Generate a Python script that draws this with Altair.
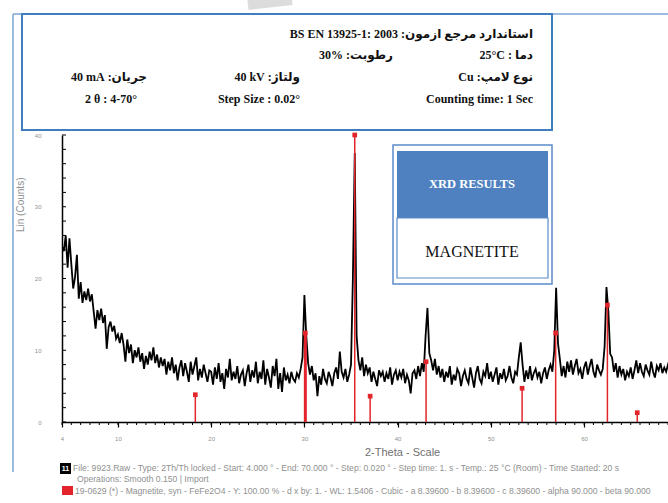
import altair as alt
import pandas as pd

# ---------------- data ----------------
SCAN_START = 4.0   # degrees 2-theta
SCAN_STEP = 0.2    # sampling step of the stored trace

counts = [
    # 4.0 - 9.8
    24.5, 23.8, 26.0, 21.5, 25.6, 22.0, 18.6, 20.2, 23.3, 17.2,
    19.5, 16.6, 18.2, 17.0, 18.6, 16.8, 17.8, 15.4, 13.0, 15.6,
    14.2, 15.8, 13.8, 14.9, 10.2, 13.2, 14.0, 12.6, 13.4, 11.6,
    # 10.0 - 14.8
    12.2, 11.0, 12.4, 10.8, 8.4, 11.5, 9.6, 10.8, 8.2, 10.0, 9.0, 10.4, 8.4,
    9.6, 7.4, 9.2, 8.0, 9.8, 8.6, 10.4, 8.2, 9.4, 7.6, 9.0, 7.8,
    # 15.0 - 19.8
    8.8, 6.6, 8.4, 7.2, 9.0, 6.8, 8.0, 5.8, 7.6, 8.6, 6.4, 8.2, 7.0,
    5.6, 8.4, 6.6, 7.8, 9.0, 5.8, 7.4, 6.2, 8.0, 6.8, 5.6, 7.2,
    # 20.0 - 24.8
    7.0, 5.2, 7.6, 6.0, 8.2, 5.6, 6.8, 4.6, 7.4, 6.2, 8.8, 5.8, 7.0,
    6.0, 7.8, 5.4, 6.6, 7.2, 5.0, 6.8, 8.0, 5.6, 7.2, 6.2, 8.4,
    # 25.0 - 29.8
    5.4, 7.0, 6.0, 8.6, 5.2, 7.4, 6.2, 4.8, 7.8, 6.4, 8.8, 4.6, 6.8,
    4.2, 7.6, 5.8, 6.6, 5.4, 7.0, 6.0, 5.6, 6.8, 6.2, 7.4, 9.0,
    # 30.0 - 34.8
    17.7, 12.0, 8.2, 6.6, 7.8, 5.8, 6.8, 3.6, 6.4, 5.2, 7.4, 6.0, 5.4,
    7.0, 6.2, 5.0, 6.8, 7.6, 6.0, 9.8, 7.0, 6.2, 7.4, 5.6, 6.6,
    # 35.0 - 39.8
    8.0, 20.0, 37.5, 12.0, 8.6, 7.2, 9.0, 6.4, 8.0, 6.8, 7.6, 5.6, 7.0,
    6.0, 5.0, 7.2, 6.4, 7.0, 5.6, 6.8, 6.0, 7.6, 5.2, 6.6, 7.2,
    # 40.0 - 44.8
    5.8, 7.0, 6.2, 7.4, 5.4, 6.6, 5.8, 4.0, 6.8, 7.2, 6.0, 7.8, 6.4,
    8.2, 7.0, 12.0, 15.9, 9.6, 8.6, 7.2, 8.8, 6.6, 7.8, 6.2, 7.4,
    # 45.0 - 49.8
    5.6, 7.0, 6.2, 7.8, 5.2, 6.6, 5.8, 7.4, 6.8, 5.0, 6.4, 7.2, 6.0,
    5.4, 7.6, 6.2, 4.8, 6.8, 7.8, 6.0, 5.4, 7.0, 6.4, 8.2, 6.0,
    # 50.0 - 54.8
    7.0, 5.6, 6.6, 7.6, 5.2, 6.8, 6.0, 7.4, 5.8, 6.4, 7.8, 6.2, 5.4,
    7.0, 6.6, 9.0, 11.1, 8.0, 5.6, 7.2, 6.0, 7.8, 5.8, 6.8, 7.4,
    # 55.0 - 59.8
    6.2, 7.0, 5.4, 6.8, 7.6, 6.0, 7.2, 8.0, 7.0, 10.0, 18.7, 11.0, 8.8,
    6.4, 7.8, 6.2, 8.4, 7.0, 8.6, 6.6, 7.8, 8.8, 6.8, 7.4, 6.0,
    # 60.0 - 64.8
    7.6, 8.4, 6.6, 7.8, 8.8, 7.0, 6.2, 8.0, 7.2, 6.6, 7.4, 10.5, 18.8,
    15.5, 9.5, 9.0, 7.0, 8.2, 6.2, 7.8, 6.6, 7.4, 5.8, 7.0, 6.4,
    # 65.0 - 69.2
    7.6, 6.0, 7.2, 8.6, 6.8, 8.2, 7.0, 6.4, 8.0, 7.2, 6.6, 8.4, 7.0,
    6.2, 7.8, 7.2, 8.2, 6.8, 7.6, 7.0, 8.0, 7.4,
]
two_theta = [round(SCAN_START + i * SCAN_STEP, 2) for i in range(len(counts))]

# reference pattern 19-0629 Magnetite (stick positions and heights)
ref_positions = [18.3, 30.1, 35.4, 37.05, 43.05, 53.35, 56.95, 62.5, 65.7]
ref_heights = [3.8, 12.4, 40.0, 3.6, 8.4, 4.7, 12.4, 16.3, 1.3]

x_major = [4, 10, 20, 30, 40, 50, 60]
x_minor = list(range(4, 70))
y_major = [0, 10, 20, 30, 40]
y_minor = list(range(0, 41, 2))

# measurement conditions: (Persian label, value)
cond_standard = ("استاندارد مرجع ازمون:", "BS EN 13925-1: 2003")
cond_temp = ("دما :", "25°C")
cond_humidity = ("رطوبت:", "30%")
cond_tube = ("نوع لامپ:", "Cu")
cond_voltage = ("ولتاژ:", "40 kV")
cond_current = ("جریان:", "40  mA")
cond_counting = "Counting time: 1 Sec"
cond_step = "Step Size : 0.02°"
cond_range = "2 θ  : 4-70°"

legend_lines = [
    "File: 9923.Raw - Type: 2Th/Th locked - Start: 4.000 ° - End: 70.000 ° - Step: 0.020 ° - Step time: 1. s - Temp.: 25 °C (Room) - Time Started: 20 s",
    "Operations: Smooth 0.150 | Import",
    "19-0629 (*) - Magnetite, syn - FeFe2O4 - Y: 100.00 % - d x by: 1. - WL: 1.5406 - Cubic - a 8.39600 - b 8.39600 - c 8.39600 - alpha 90.000 - beta 90.000",
]

# ---------------- layout ----------------
X0, Y0 = 62, 135          # plot origin on the page
W, H = 606, 287           # plot area
SERIF = "Liberation Serif, DejaVu Serif, DejaVu Sans"
SANS = "Liberation Sans, Arial, DejaVu Sans"
RED = "#e3242b"
GREY = "#909090"
RLE, LRE, PDF = "\u202b", "\u202a", "\u202c"

trace = pd.DataFrame({"two_theta": two_theta, "counts": counts})
sticks = pd.DataFrame({"two_theta": ref_positions, "counts": ref_heights})

xs = alt.Scale(domain=[4, 69.0], nice=False, zero=False)
ys = alt.Scale(domain=[0, 40], nice=False)


def one_row(text=""):
    return pd.DataFrame({"t": [text]})


def text_at(text, x, y, size, color="#111", weight="normal", align="left",
            font=SERIF, angle=0):
    return alt.Chart(one_row(text)).mark_text(
        align=align, baseline="middle", fontSize=size, fontWeight=weight,
        font=font, color=color, angle=angle
    ).encode(x=alt.value(x - X0), y=alt.value(y - Y0), text="t:N")


def rtl(pair, x, y, size=12):
    label, value = pair
    s = RLE + label + " " + LRE + value + PDF + PDF
    return text_at(s, x, y, size, weight="bold", align="right")


def rect_at(x1, y1, x2, y2, **style):
    return alt.Chart(one_row()).mark_rect(**style).encode(
        x=alt.value(x1 - X0), x2=alt.value(x2 - X0),
        y=alt.value(y1 - Y0), y2=alt.value(y2 - Y0))


def rule_at(x1, y1, x2, y2, color, width):
    return alt.Chart(one_row()).mark_rule(color=color, strokeWidth=width).encode(
        x=alt.value(x1 - X0), x2=alt.value(x2 - X0),
        y=alt.value(y1 - Y0), y2=alt.value(y2 - Y0))


# ---------------- frame and header ----------------
frame = [
    rule_at(248, 5, 292, 0, "#dcdcdc", 10),
    rule_at(13, 14, 668, 14, "#7ea6d3", 1.5),
    rule_at(13, 14, 13, 472, "#7ea6d3", 1.5),
    rect_at(22, 14, 552, 130, fill="white", stroke="#3f7dbd", strokeWidth=2),
]

header = [
    rtl(cond_standard, 533, 34),
    rtl(cond_temp, 533, 55),
    rtl(cond_humidity, 393, 55),
    rtl(cond_tube, 533, 77),
    rtl(cond_voltage, 300, 77),
    rtl(cond_current, 147, 77),
    text_at(cond_counting, 533, 99, 12, weight="bold", align="right"),
    text_at(cond_step, 300, 99, 12, weight="bold", align="right"),
    text_at(cond_range, 137, 99, 12, weight="bold", align="right"),
]

# ---------------- diffractogram ----------------
line = alt.Chart(trace).mark_line(color="black", strokeWidth=1.8, clip=True).encode(
    x=alt.X("two_theta:Q", scale=xs, title=None,
            axis=alt.Axis(values=x_major, tickSize=5, tickColor="black",
                          tickWidth=1.2, domainColor="black", domainWidth=1.5,
                          labelFontSize=6, labelColor=GREY, labelPadding=8,
                          labelFont=SANS, labelFlush=False, grid=False)),
    y=alt.Y("counts:Q", scale=ys, title=None,
            axis=alt.Axis(values=y_major, tickSize=0, ticks=False,
                          domainColor="black", domainWidth=1.5,
                          labelFontSize=6, labelColor=GREY,
                          labelPadding=21, labelFont=SANS, grid=False)),
)

# small ticks: every degree below the x axis, every 2 counts inside the y axis
x_ticks = alt.Chart(pd.DataFrame({"v": x_minor})).mark_rule(
    color="black", strokeWidth=1).encode(
    x=alt.X("v:Q", scale=xs, axis=None), y=alt.value(H), y2=alt.value(H + 3))
y_ticks = alt.Chart(pd.DataFrame({"v": y_minor})).mark_rule(
    color="black", strokeWidth=1).encode(
    y=alt.Y("v:Q", scale=ys, axis=None), x=alt.value(0), x2=alt.value(4))

stick_rules = alt.Chart(sticks).mark_rule(color=RED, clip=True).encode(
    x=alt.X("two_theta:Q", scale=xs, axis=None),
    y=alt.Y("counts:Q", scale=ys, axis=None),
    y2=alt.datum(0),
    strokeWidth=alt.condition(alt.datum.two_theta == 30.1, alt.value(3), alt.value(1.5)),
)

stick_tops = alt.Chart(sticks).mark_square(color=RED, size=22, opacity=1).encode(
    x=alt.X("two_theta:Q", scale=xs, axis=None),
    y=alt.Y("counts:Q", scale=ys, axis=None),
)

axis_titles = [
    text_at("2-Theta - Scale", 365, 453, 11, color="#707070", font=SANS),
    text_at("Lin (Counts)", 21, 232, 10, color=GREY, font=SANS, angle=270),
]

# ---------------- result card ----------------
card = [
    rect_at(393, 145, 552, 284, fill="white", stroke="#5b8ccb", strokeWidth=1.5),
    rect_at(397, 151, 548, 218, fill="#4f81c0"),
    rect_at(397, 218, 548, 278, fill="white", stroke="#5b8ccb", strokeWidth=1.2),
    text_at("XRD RESULTS", 472, 184, 12.5, color="white", weight="bold", align="center"),
    text_at("MAGNETITE", 472, 252, 16, color="#111", align="center"),
]

# ---------------- scan legend ----------------
legend = [
    rect_at(60, 463, 71, 474, fill="black"),
    text_at("11", 65.5, 468.5, 7, color="white", weight="bold", align="center", font=SANS),
    text_at(legend_lines[0], 73, 468, 8.6, color=GREY, font=SANS),
    text_at(legend_lines[1], 77, 479, 8.6, color=GREY, font=SANS),
    rect_at(62, 486, 73, 495, fill=RED),
    text_at(legend_lines[2], 75, 491, 8.6, color=GREY, font=SANS),
]

chart = alt.layer(
    *frame, *header, line, x_ticks, y_ticks, stick_rules, stick_tops,
    *axis_titles, *card, *legend
).resolve_axis(x="independent", y="independent").properties(
    width=W, height=H,
    padding={"left": X0, "top": Y0, "right": 0, "bottom": 503 - Y0 - H},
    autosize=alt.AutoSizeParams(type="none"),
    background="white",
).configure_view(stroke=None)

chart.save("out.html", embed_options={"renderer": "svg", "actions": False})
